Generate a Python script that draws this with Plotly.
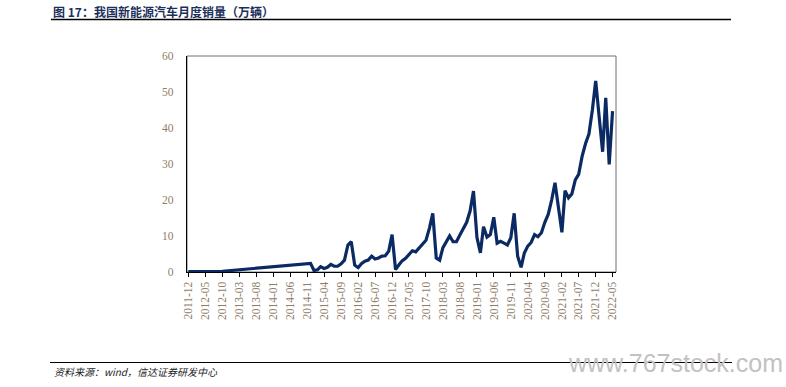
import plotly.graph_objects as go

# ---- data (万辆) ----
early_months = ["2011-12", "2012-01", "2012-02", "2012-03", "2012-04", "2012-05",
                "2012-06", "2012-07", "2012-08", "2012-09", "2012-10"]
early_values = [0.1, 0.1, 0.1, 0.1, 0.15, 0.15, 0.15, 0.1, 0.15, 0.2, 0.2]

late2014_months = ["2014-12"]
late2014_values = [2.4]

v2015 = [0.4, 0.6, 1.5, 1.0, 1.3, 2.1, 1.6, 1.6, 2.3, 3.3, 7.5, 8.4]
v2016 = [1.9, 1.2, 2.3, 3.0, 3.3, 4.4, 3.6, 3.9, 4.4, 4.5, 5.8, 10.4]
v2017 = [0.7, 2.0, 3.1, 3.8, 4.7, 5.9, 5.6, 6.7, 7.8, 8.8, 12.2, 16.3]
v2018 = [3.9, 3.3, 6.7, 8.2, 10.0, 8.4, 8.4, 10.3, 12.1, 13.8, 17.0, 22.5]
v2019 = [9.6, 5.3, 12.6, 9.7, 10.4, 15.2, 8.0, 8.5, 8.0, 7.5, 9.5, 16.3]
v2020 = [4.4, 1.3, 5.3, 7.2, 8.2, 10.4, 9.8, 10.9, 13.8, 16.0, 20.0, 24.8]
v2021 = [17.9, 11.0, 22.6, 20.6, 21.7, 25.6, 27.1, 32.1, 35.7, 38.3, 45.0, 53.1]
v2022 = [43.1, 33.4, 48.4, 29.9, 44.7]

tick_labels = ["2011-12", "2012-05", "2012-10", "2013-03", "2013-08", "2014-01",
               "2014-06", "2014-11", "2015-04", "2015-09", "2016-02", "2016-07",
               "2016-12", "2017-05", "2017-10", "2018-03", "2018-08", "2019-01",
               "2019-06", "2019-11", "2020-04", "2020-09", "2021-02", "2021-07",
               "2021-12", "2022-05"]

title_text = "图 17：我国新能源汽车月度销量（万辆）"
source_text = "资料来源：wind，信达证券研发中心"
watermark_text = "www.767stock.com"

# ---- assemble series ----
months = list(early_months) + list(late2014_months)
values = list(early_values) + list(late2014_values)
for year, vals in [(2015, v2015), (2016, v2016), (2017, v2017), (2018, v2018),
                   (2019, v2019), (2020, v2020), (2021, v2021), (2022, v2022)]:
    for i, v in enumerate(vals):
        months.append(f"{year}-{i + 1:02d}")
        values.append(v)

x_dates = [m + "-01" for m in months]
tick_vals = [t + "-01" for t in tick_labels]

# plot area in pixels: x 187..616, y 56..272
PL, PR, PT, PB = 187, 616, 56, 272
PW, PH = PR - PL, PB - PT


def px(x):
    return (x - PL) / PW


def py(y):
    return (PB - y) / PH


fig = go.Figure()
fig.add_trace(go.Scatter(
    x=x_dates, y=values, mode="lines",
    line=dict(color="#0B2A63", width=3.2),
    hoverinfo="skip", showlegend=False,
))

tick_font = dict(family="Liberation Serif, Times New Roman, serif", size=11.5, color="#8F7D69")

fig.update_layout(
    width=786, height=387,
    margin=dict(l=PL, r=786 - PR, t=PT, b=387 - PB),
    paper_bgcolor="white", plot_bgcolor="white",
    xaxis=dict(
        type="date",
        range=["2011-11-19", "2022-06-01"],
        tickmode="array", tickvals=tick_vals, ticktext=tick_labels,
        tickangle=-90, tickfont=tick_font,
        ticks="outside", ticklen=4, tickcolor="black", tickwidth=1,
        showline=True, linecolor="black", linewidth=1.2,
        showgrid=False, zeroline=False,
    ),
    yaxis=dict(
        range=[0, 60], dtick=10, tickfont=tick_font,
        ticks="", ticklabelstandoff=10,
        showline=True, linecolor="black", linewidth=1.2,
        showgrid=False, zeroline=False,
    ),
    shapes=[
        dict(type="rect", xref="x domain", yref="y domain", x0=0, x1=1, y0=0, y1=1,
             line=dict(color="#707070", width=1), layer="below"),
        dict(type="line", xref="paper", yref="paper", x0=px(51), x1=px(731),
             y0=py(19.5), y1=py(19.5),
             line=dict(color="black", width=1.5)),
        dict(type="line", xref="paper", yref="paper", x0=px(50), x1=px(732),
             y0=py(362.5), y1=py(362.5),
             line=dict(color="black", width=1)),
    ],
    annotations=[
        dict(text="<b>" + title_text + "</b>", xref="paper", yref="paper",
             x=px(51), y=py(11.5), xanchor="left", yanchor="middle",
             showarrow=False,
             font=dict(family="Noto Sans CJK SC", size=12, color="#1B2F5B")),
        dict(text="<i>" + source_text + "</i>", xref="paper", yref="paper",
             x=px(52), y=py(371), xanchor="left", yanchor="middle",
             showarrow=False,
             font=dict(family="Noto Sans CJK SC", size=10, color="#222222")),
        dict(text=watermark_text, xref="paper", yref="paper",
             x=px(785), y=py(363), xanchor="right", yanchor="middle",
             showarrow=False,
             font=dict(family="Liberation Sans, Arial, sans-serif", size=25, color="#C2C2C2")),
    ],
)

fig.write_html("out.html", config={"displayModeBar": False},
               post_script="document.body.style.margin='0px';")
